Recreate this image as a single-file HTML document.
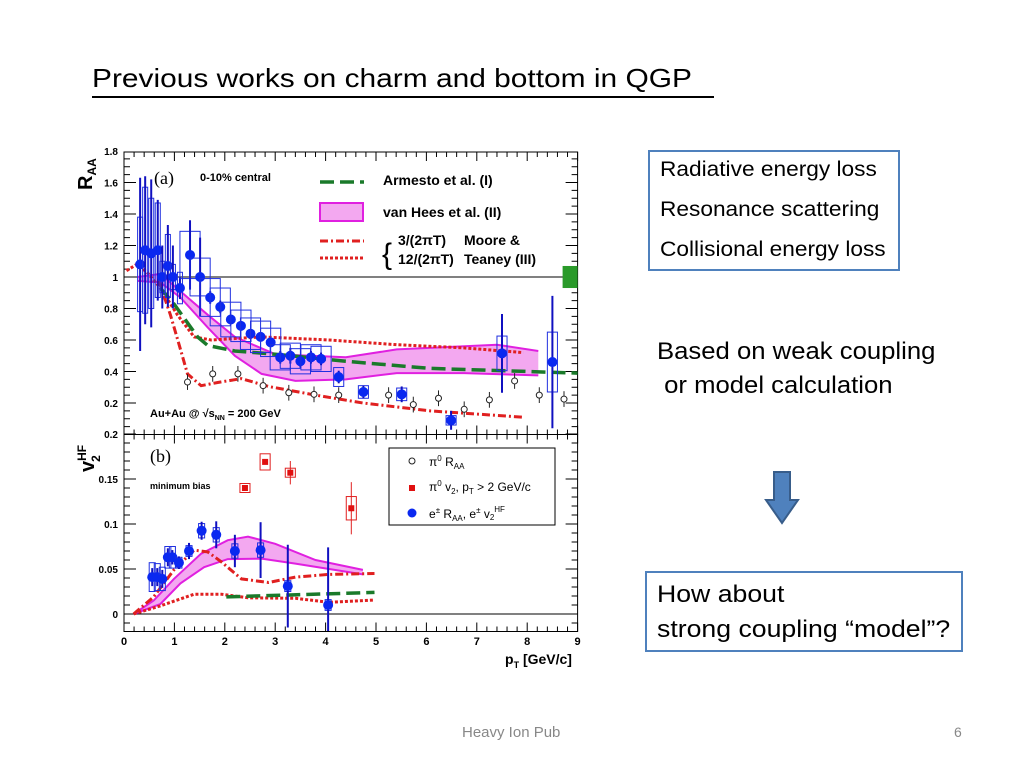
<!DOCTYPE html>
<html><head><meta charset="utf-8">
<style>
body{margin:0;width:1024px;height:768px;background:#fff;position:relative;overflow:hidden;font-family:"Liberation Sans",sans-serif}
.t{position:absolute;white-space:nowrap;color:#000;transform-origin:0 0}
.box{position:absolute;border:2px solid #4f81bd;box-sizing:border-box}
</style></head>
<body>
<div class="t" style="left:92px;top:63px;font-size:26px;line-height:31px;transform:scaleX(1.15)">Previous works on charm and bottom in QGP</div>
<div style="position:absolute;left:92px;top:96px;width:622px;height:1.5px;background:#000"></div>

<div class="box" style="left:648px;top:150px;width:252px;height:121px"></div>
<div class="t" style="left:660px;top:158px;font-size:21px;transform:scaleX(1.08)">Radiative energy loss</div>
<div class="t" style="left:660px;top:198px;font-size:21px;transform:scaleX(1.08)">Resonance scattering</div>
<div class="t" style="left:660px;top:238px;font-size:21px;transform:scaleX(1.08)">Collisional energy loss</div>
<div class="t" style="left:657px;top:335px;font-size:24px;line-height:34px;transform:scaleX(1.07)">Based on weak coupling<br>&nbsp;or model calculation</div>
<svg style="position:absolute;left:764px;top:470px" width="36" height="56"><polygon points="10,2 26,2 26,30 34,30 18,53 2,30 10,30" fill="#4f81bd" stroke="#385d8a" stroke-width="2"/></svg>
<div class="box" style="left:645px;top:571px;width:318px;height:81px"></div>
<div class="t" style="left:657px;top:577px;font-size:24px;line-height:35px;transform:scaleX(1.11)">How about<br>strong coupling “model”?</div>
<div class="t" style="left:462px;top:724px;font-size:15px;color:#888">Heavy Ion Pub</div>
<div class="t" style="left:954px;top:724px;font-size:14px;color:#888">6</div>

<svg id="chart" style="position:absolute;left:0;top:0" width="1024" height="768" font-family="Liberation Sans, sans-serif"></svg>

<script>
// ---- top panel (R_AA) data ----
const raaPt=[0.32,0.42,0.54,0.67,0.76,0.87,0.97,1.11,1.31,1.51,1.71,1.91,2.12,2.32,2.51,2.71,2.91,3.1,3.3,3.5,3.71,3.91,4.26,4.75,5.51,6.49,7.5,8.5];
const raaVal=[1.08,1.17,1.15,1.17,1.0,1.07,1.0,0.93,1.14,1.0,0.87,0.81,0.73,0.69,0.64,0.62,0.585,0.49,0.50,0.465,0.49,0.48,0.365,0.27,0.255,0.09,0.515,0.46];
const raaStat=[0.55,0.47,0.47,0.32,0.2,0.26,0.2,0.07,0.22,0.25,0.04,0.04,0.03,0.03,0.03,0.03,0.03,0.04,0.05,0.04,0.04,0.04,0.04,0.04,0.05,0.06,0.25,0.42];
const raaSys=[0.3,0.4,0.35,0.3,0.1,0.2,0.08,0.1,0.15,0.12,0.12,0.12,0.11,0.1,0.1,0.1,0.09,0.08,0.08,0.08,0.08,0.08,0.06,0.04,0.04,0.03,0.11,0.19];
const pi0Pt=[1.26,1.76,2.26,2.76,3.27,3.77,4.26,5.25,5.74,6.24,6.75,7.25,7.75,8.24,8.73];
const pi0Raa=[0.333,0.385,0.385,0.31,0.265,0.255,0.25,0.25,0.19,0.23,0.16,0.22,0.34,0.25,0.225];
const armPt=[0.72,0.99,1.46,1.66,2.2,3.0,4.4,6.08,9];
const armRaa=[0.93,0.83,0.62,0.565,0.53,0.51,0.465,0.42,0.39];
const mtDotPt=[0.05,0.25,0.46,0.72,1.06,1.39,1.73,2.73,4.07,5.41,6.75,7.92];
const mtDotRaa=[1.04,1.08,1.03,0.93,0.76,0.62,0.6,0.62,0.6,0.57,0.55,0.52];
const mtDdPt=[0.69,0.92,1.09,1.26,1.53,1.86,2.33,2.87,3.8,4.74,6.08,7.92];
const mtDdRaa=[0.975,0.76,0.575,0.385,0.31,0.33,0.355,0.305,0.25,0.2,0.15,0.11];
const vhUpPt=[0.27,0.72,1.12,1.66,2.2,3.0,4.4,5.41,7.4,8.22];
const vhUpRaa=[1.0,1.02,0.91,0.76,0.62,0.51,0.49,0.54,0.57,0.53];
const vhLoPt=[0.27,0.72,1.12,1.66,2.2,2.73,3.4,4.4,5.41,6.75,8.22];
const vhLoRaa=[0.975,0.965,0.87,0.68,0.5,0.385,0.34,0.35,0.39,0.39,0.375];
// ---- bottom panel (v2) data ----
const v2Pt=[0.56,0.66,0.76,0.87,0.96,1.09,1.29,1.54,1.83,2.2,2.71,3.25,4.05];
const v2Val=[0.041,0.041,0.039,0.063,0.063,0.057,0.07,0.0925,0.088,0.07,0.071,0.031,0.01];
const v2Stat=[0.01,0.01,0.01,0.01,0.008,0.007,0.009,0.01,0.015,0.018,0.031,0.046,0.064];
const v2Sys=[0.016,0.015,0.013,0.012,0.012,0.006,0.006,0.008,0.008,0.008,0.008,0.006,0.006];
const pv2Pt=[2.4,2.8,3.3,4.51];
const pv2Val=[0.14,0.169,0.157,0.1175];
const pv2Sys=[0.005,0.009,0.005,0.013];
const pv2Stat=[0.002,0.002,0.013,0.029];
const bUpPt=[0.19,0.59,0.99,1.53,2.06,2.46,3.0,3.8,4.74];
const bUpV=[0,0.015,0.039,0.067,0.082,0.086,0.078,0.06,0.049];
const bLoPt=[0.19,0.72,1.12,1.59,2.06,2.73,3.4,4.07,4.74];
const bLoV=[0,0.011,0.034,0.052,0.061,0.0615,0.056,0.05,0.044];
const bDdPt=[0.19,0.59,0.99,1.39,1.66,1.93,2.33,2.87,3.4,4.07,4.97];
const bDdV=[0,0.019,0.049,0.071,0.069,0.058,0.039,0.035,0.041,0.044,0.045];
const bDotPt=[0.19,0.72,1.39,1.93,2.46,3.4,4.07,4.97];
const bDotV=[0,0.009,0.022,0.022,0.018,0.0175,0.013,0.0155];
const bArmPt=[2.03,4.97];
const bArmV=[0.019,0.024];
const raaTicks=["0.2","0.4","0.6","0.8","1","1.2","1.4","1.6","1.8"];
const v2Ticks=["0","0.05","0.1","0.15","0.2"];
const xTicks=["0","1","2","3","4","5","6","7","8","9"];

const svg=document.getElementById('chart');
const NS='http://www.w3.org/2000/svg';
const X0=124,XS=50.4,XR=X0+9*XS;
const X=p=>X0+p*XS;
const YT=r=>434.5-r*157.5;
const YB=v=>614-v*900;
function mk(tag,at,name){const e=document.createElementNS(NS,tag);for(const k in at)e.setAttribute(k,at[k]);


svg.appendChild(e);return e;}
function txt(x,y,s,at,name){const e=mk('text',Object.assign({x:x,y:y},at),name);e.innerHTML=s;return e;}
function path(xs,ys,fy,st,name){let d='';xs.forEach((p,i)=>{d+=(i?'L':'M')+X(p).toFixed(1)+','+fy(ys[i]).toFixed(1);});return mk('path',Object.assign({d:d,fill:'none'},st),name);}
function band(x1,y1,x2,y2,fy,name){let d='';x1.forEach((p,i)=>{d+=(i?'L':'M')+X(p)+','+fy(y1[i]);});for(let i=x2.length-1;i>=0;i--)d+='L'+X(x2[i])+','+fy(y2[i]);d+='Z';
mk('path',{d:d,fill:'#f3a8f0',stroke:'none'},name);}

// frames
mk('rect',{x:X0,y:152,width:XR-X0,height:282.5,fill:'none',stroke:'#000','stroke-width':1},'top-frame');
mk('rect',{x:X0,y:434.5,width:XR-X0,height:197,fill:'none',stroke:'#000','stroke-width':1},'bottom-frame');
// ticks
for(let i=0;i<=45;i++){const x=X0+i*XS/5,L=i%5==0?9:5;
 mk('line',{x1:x,x2:x,y1:631.5,y2:631.5-L,stroke:'#000'},'x-tick-bottom');
 mk('line',{x1:x,x2:x,y1:434.5,y2:434.5-L,stroke:'#000'},'x-tick-top-panel');
 mk('line',{x1:x,x2:x,y1:152,y2:152+L,stroke:'#000'},'x-tick-top');
 mk('line',{x1:x,x2:x,y1:434.5,y2:434.5+L,stroke:'#000'},'x-tick-bottom-panel');}
for(let i=0;i<=36;i++){const r=i*0.05,y=YT(r);if(y<152)break;const L=i%4==0?12:6;
 mk('line',{x1:X0,x2:X0+L,y1:y,y2:y,stroke:'#000'},'y-tick-top');mk('line',{x1:XR,x2:XR-L,y1:y,y2:y,stroke:'#000'},'y-tick-top-right');}
for(let i=-2;i<=20;i++){const v=i*0.01,y=YB(v);if(y>631.5)continue;const L=i%5==0?12:6;
 mk('line',{x1:X0,x2:X0+L,y1:y,y2:y,stroke:'#000'},'y-tick-bottom');mk('line',{x1:XR,x2:XR-L,y1:y,y2:y,stroke:'#000'},'y-tick-bottom-right');}
raaTicks.forEach(s=>txt(118,YT(+s)+4,s,{'font-size':10,'font-weight':'bold','text-anchor':'end'},'y-tick-label-raa'));
v2Ticks.forEach(s=>txt(118,YB(+s)+4,s,{'font-size':10,'font-weight':'bold','text-anchor':'end'},'y-tick-label-v2'));
xTicks.forEach(s=>txt(X(+s),645,s,{'font-size':11,'font-weight':'bold','text-anchor':'middle'},'x-tick-label'));
mk('line',{x1:X0,x2:XR,y1:YT(1),y2:YT(1),stroke:'#000'},'unity-line');
mk('line',{x1:X0,x2:XR,y1:YB(0),y2:YB(0),stroke:'#000'},'zero-line');
mk('rect',{x:XR-15,y:YT(1.07),width:15,height:YT(0.93)-YT(1.07),fill:'#2a9a2a'},'norm-uncertainty-box');

// top curves
band(vhUpPt,vhUpRaa,vhLoPt,vhLoRaa,YT,'van-hees-band');
path(vhUpPt,vhUpRaa,YT,{stroke:'#e020e0','stroke-width':2},'van-hees-upper');
path(vhLoPt,vhLoRaa,YT,{stroke:'#e020e0','stroke-width':2},'van-hees-lower');
path(mtDotPt,mtDotRaa,YT,{stroke:'#e02020','stroke-width':3,'stroke-dasharray':'3,2'},'moore-teaney-12');
path(mtDdPt,mtDdRaa,YT,{stroke:'#e02020','stroke-width':3,'stroke-dasharray':'8,3,2,3'},'moore-teaney-3');
path(armPt,armRaa,YT,{stroke:'#1a7a2a','stroke-width':3.5,'stroke-dasharray':'14,6'},'armesto-curve');
// top points
raaPt.forEach((p,i)=>{const hw=p<1.2?0.05:(p<4.1?0.2:0.1);
 mk('rect',{x:X(p-hw),y:YT(raaVal[i]+raaSys[i]),width:X(hw)-X(-hw),height:YT(raaVal[i]-raaSys[i])-YT(raaVal[i]+raaSys[i]),fill:'none',stroke:'#2030e0'},'raa-sys-box');
 mk('line',{x1:X(p),x2:X(p),y1:YT(raaVal[i]+raaStat[i]),y2:YT(Math.max(0,raaVal[i]-raaStat[i])),stroke:'#1010c0','stroke-width':2},'raa-stat-error');
 mk('circle',{cx:X(p),cy:YT(raaVal[i]),r:5,fill:'#0a28f0'},'raa-point');});
pi0Pt.forEach((p,i)=>{mk('line',{x1:X(p),x2:X(p),y1:YT(pi0Raa[i]+0.05),y2:YT(pi0Raa[i]-0.05),stroke:'#222'},'pi0-error');
 mk('circle',{cx:X(p),cy:YT(pi0Raa[i]),r:3,fill:'#fff',stroke:'#222'},'pi0-raa-point');});

// bottom curves
band(bUpPt,bUpV,bLoPt,bLoV,YB,'v2-van-hees-band');
path(bUpPt,bUpV,YB,{stroke:'#e020e0','stroke-width':2},'v2-van-hees-upper');
path(bLoPt,bLoV,YB,{stroke:'#e020e0','stroke-width':2},'v2-van-hees-lower');
path(bDotPt,bDotV,YB,{stroke:'#e02020','stroke-width':3,'stroke-dasharray':'3,2'},'v2-moore-teaney-12');
path(bDdPt,bDdV,YB,{stroke:'#e02020','stroke-width':3,'stroke-dasharray':'8,3,2,3'},'v2-moore-teaney-3');
path(bArmPt,bArmV,YB,{stroke:'#1a7a2a','stroke-width':3.5,'stroke-dasharray':'14,6'},'v2-armesto-curve');
v2Pt.forEach((p,i)=>{const hw=0.06;
 mk('rect',{x:X(p-hw),y:YB(v2Val[i]+v2Sys[i]),width:X(hw)-X(-hw),height:YB(v2Val[i]-v2Sys[i])-YB(v2Val[i]+v2Sys[i]),fill:'none',stroke:'#2030e0'},'v2-sys-box');
 mk('line',{x1:X(p),x2:X(p),y1:YB(v2Val[i]+v2Stat[i]),y2:Math.min(631,YB(v2Val[i]-v2Stat[i])),stroke:'#1010c0','stroke-width':2},'v2-stat-error');
 mk('circle',{cx:X(p),cy:YB(v2Val[i]),r:5,fill:'#0a28f0'},'v2-point');});
pv2Pt.forEach((p,i)=>{const hw=0.1;
 mk('rect',{x:X(p-hw),y:YB(pv2Val[i]+pv2Sys[i]),width:X(hw)-X(-hw),height:YB(pv2Val[i]-pv2Sys[i])-YB(pv2Val[i]+pv2Sys[i]),fill:'none',stroke:'#e02020'},'pi0-v2-sys-box');
 mk('line',{x1:X(p),x2:X(p),y1:YB(pv2Val[i]+pv2Stat[i]),y2:YB(pv2Val[i]-pv2Stat[i]),stroke:'#e02020'},'pi0-v2-error');
 mk('rect',{x:X(p)-3,y:YB(pv2Val[i])-3,width:6,height:6,fill:'#e01010'},'pi0-v2-point');});

// texts & legends
txt(154,184,'(a)',{'font-family':'Liberation Serif, serif','font-size':18},'panel-a-label');
txt(200,181,'0-10% central',{'font-size':11,'font-weight':'bold'},'centrality-label');
txt(150,417,'Au+Au @ √s<tspan font-size="7" dy="3">NN</tspan><tspan dy="-3"> = 200 GeV</tspan>',{'font-size':11,'font-weight':'bold'},'collision-label');
txt(150,462,'(b)',{'font-family':'Liberation Serif, serif','font-size':18},'panel-b-label');
txt(150,489,'minimum bias',{'font-size':9,'font-weight':'bold'},'minbias-label');
mk('line',{x1:320,x2:364,y1:182,y2:182,stroke:'#1a7a2a','stroke-width':3.5,'stroke-dasharray':'14,6'},'legend-armesto-line');
txt(383,185,'Armesto et al. (I)',{'font-size':14,'font-weight':'bold'},'legend-armesto');
mk('rect',{x:320,y:203,width:43,height:18,fill:'#f3a8f0',stroke:'#e020e0','stroke-width':2},'legend-vanhees-box');
txt(383,217,'van Hees et al. (II)',{'font-size':14,'font-weight':'bold'},'legend-vanhees');
mk('line',{x1:320,x2:364,y1:241,y2:241,stroke:'#e02020','stroke-width':3,'stroke-dasharray':'8,3,2,3'},'legend-mt3-line');
mk('line',{x1:320,x2:364,y1:258,y2:258,stroke:'#e02020','stroke-width':3,'stroke-dasharray':'3,2'},'legend-mt12-line');
txt(382,264,'{',{'font-size':30},'legend-brace');
txt(398,245,'3/(2πT)',{'font-size':14,'font-weight':'bold'},'legend-mt3');
txt(398,264,'12/(2πT)',{'font-size':14,'font-weight':'bold'},'legend-mt12');
txt(464,245,'Moore &amp;',{'font-size':14,'font-weight':'bold'},'legend-moore');
txt(464,264,'Teaney (III)',{'font-size':14,'font-weight':'bold'},'legend-teaney');
mk('rect',{x:389,y:448,width:166,height:77,fill:'#fff',stroke:'#000'},'legend-b-box');
mk('circle',{cx:412,cy:461,r:3,fill:'#fff',stroke:'#222'},'legend-pi0-marker');
txt(429,466,'π<tspan font-size="8" dy="-5">0</tspan><tspan dy="5"> R</tspan><tspan font-size="8" dy="3">AA</tspan>',{'font-size':12},'legend-pi0-raa');
mk('rect',{x:409,y:485,width:6,height:6,fill:'#e01010'},'legend-pi0v2-marker');
txt(429,491,'π<tspan font-size="8" dy="-5">0</tspan><tspan dy="5"> v</tspan><tspan font-size="8" dy="3">2</tspan><tspan dy="-3">, p</tspan><tspan font-size="8" dy="3">T</tspan><tspan dy="-3"> &gt; 2 GeV/c</tspan>',{'font-size':12},'legend-pi0-v2');
mk('circle',{cx:412,cy:513,r:4.5,fill:'#0a28f0'},'legend-e-marker');
txt(429,518,'e<tspan font-size="8" dy="-5">±</tspan><tspan dy="5"> R</tspan><tspan font-size="8" dy="3">AA</tspan><tspan dy="-3">, e</tspan><tspan font-size="8" dy="-5">±</tspan><tspan dy="5"> v</tspan><tspan font-size="8" dy="2">2</tspan><tspan font-size="8" dy="-8">HF</tspan>',{'font-size':12},'legend-electron');
txt(0,0,'R<tspan font-size="12" dy="4">AA</tspan>',{'font-size':20,'font-weight':'bold',transform:'translate(92,190) rotate(-90)'},'y-axis-title-raa');
txt(0,0,'v<tspan font-size="12" dy="-8">HF</tspan><tspan font-size="12" dx="-17" dy="14">2</tspan>',{'font-size':20,'font-weight':'bold',transform:'translate(94,472) rotate(-90)'},'y-axis-title-v2');
txt(505,664,'p<tspan font-size="9" dy="4">T</tspan><tspan dy="-4"> [GeV/c]</tspan>',{'font-size':14,'font-weight':'bold'},'x-axis-title');
</script>
</body></html>
